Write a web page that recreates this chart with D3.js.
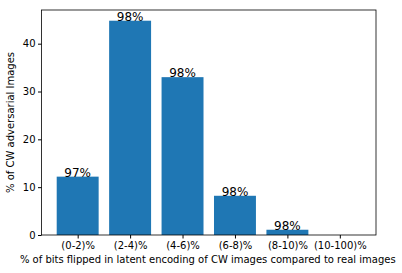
<!DOCTYPE html>
<html>
<head>
<meta charset="utf-8">
<script src="https://cdn.jsdelivr.net/npm/d3@7"></script>
<style>
body { margin: 0; background: #fff; }
text { font-family: "DejaVu Sans", sans-serif; fill: #000; }
</style>
</head>
<body>
<script>

const w = 402;
const h = 273;

// data
const categories = ["(0-2)%", "(2-4)%", "(4-6)%", "(6-8)%", "(8-10)%", "(10-100)%"];
const values = [12.2, 44.8, 33.0, 8.2, 1.1, 0];
const labels = ["97%", "98%", "98%", "98%", "98%", ""];
const yTicks = [0, 10, 20, 30, 40];

const margin = { top: 10, right: 26, bottom: 38, left: 41.5 };

let svg = d3.select("body")
    .append("svg")
    .attr("width", w)
    .attr("height", h)

// matplotlib-like x axis: bar centres at 0..5, width 0.8, 5% margins
const n = categories.length;
const span = (n - 1) + 0.8;
const x = d3.scaleLinear()
    .domain([-0.4 - span * 0.05, n - 1 + 0.4 + span * 0.05])
    .range([margin.left, w - margin.right]);

const y = d3.scaleLinear()
    .domain([0, d3.max(values) * 1.05])
    .range([h - margin.bottom, margin.top]);

svg.append("g")
    .selectAll("rect")
    .data(values)
    .enter()
    .append("rect")
    .attr("x", (d, i) => x(i - 0.4))
    .attr("width", (d, i) => x(i + 0.4) - x(i - 0.4))
    .attr("y", d => y(d))
    .attr("height", d => y(0) - y(d))
    .attr("fill", "#1f77b4")

svg.append("g")
    .selectAll("text")
    .data(values)
    .enter()
    .append("text")
    .attr("x", (d, i) => x(i))
    .attr("y", d => y(d))
    .attr("text-anchor", "middle")
    .style("font-size", "12px")
    .text((d, i) => labels[i])

// axes
const xAxis = d3.axisBottom(x)
    .tickValues(d3.range(n))
    .tickFormat(i => categories[i])
    .tickSize(3.5)
    .tickSizeOuter(0);

const yAxis = d3.axisLeft(y)
    .tickValues(yTicks)
    .tickSize(3.5)
    .tickSizeOuter(0);

const gx = svg.append("g")
    .attr("transform", `translate(0,${y(0)})`)
    .call(xAxis);
gx.select(".domain").remove();
gx.selectAll("text").style("font-size", "10px").attr("dy", "0.71em").attr("y", 7);

const gy = svg.append("g")
    .attr("transform", `translate(${margin.left},0)`)
    .call(yAxis);
gy.select(".domain").remove();
gy.selectAll("text").style("font-size", "10px").attr("x", -6);

// frame
svg.append("rect")
    .attr("x", margin.left)
    .attr("y", margin.top)
    .attr("width", w - margin.right - margin.left)
    .attr("height", h - margin.bottom - margin.top)
    .attr("fill", "none")
    .attr("stroke", "#000")
    .attr("stroke-width", 0.8)

svg.append("text")
    .attr("x", (margin.left + w - margin.right) / 2 - 1)
    .attr("y", 263)
    .attr("text-anchor", "middle")
    .style("font-size", "10px")
    .text("% of bits flipped in latent encoding of CW images compared to real images")

svg.append("text")
    .attr("transform", `translate(14,${(margin.top + h - margin.bottom) / 2}) rotate(-90)`)
    .attr("text-anchor", "middle")
    .style("font-size", "10px")
    .text("% of CW adversarial Images")

</script>
</body>
</html>
